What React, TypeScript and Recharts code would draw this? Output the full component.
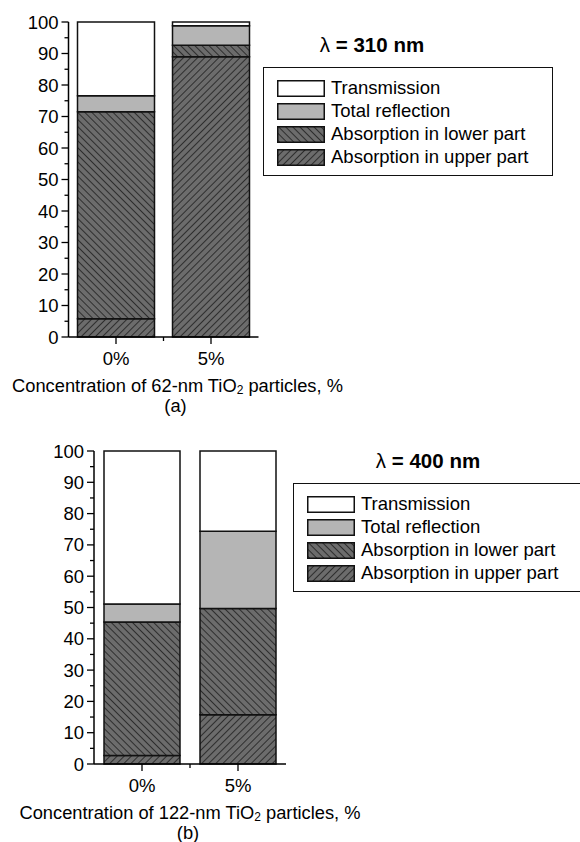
import React from 'react';
import { BarChart, Bar, XAxis, YAxis, Legend } from 'recharts';

const FONT = '"Liberation Sans", Arial, Helvetica, sans-serif';

// Categories: TiO2 particle concentration
const categories = ['0%', '5%'];

// Panel (a): 62-nm particles, λ = 310 nm (segment heights, %)
const upperA = [5.8, 89.0];
const lowerA = [65.7, 3.6];
const reflA = [5.1, 6.2];
const transA = [23.4, 1.2];

// Panel (b): 122-nm particles, λ = 400 nm (segment heights, %)
const upperB = [2.7, 15.7];
const lowerB = [42.7, 34.0];
const reflB = [5.7, 24.7];
const transB = [48.9, 25.6];

const yTicks = [0, 5, 10, 15, 20, 25, 30, 35, 40, 45, 50, 55, 60, 65, 70, 75, 80, 85, 90, 95, 100];

const seriesNames = {
  upper: 'Absorption in upper part',
  lower: 'Absorption in lower part',
  refl: 'Total reflection',
  trans: 'Transmission',
};
const legendOrder = ['trans', 'refl', 'lower', 'upper'];

const DARK = '#6c6c6c';
const HATCH = '#2e2e2e';
const LIGHT = '#b5b5b5';

function buildRows(upper: number[], lower: number[], refl: number[], trans: number[]) {
  return categories.map((cat, i) => ({
    cat,
    upper: upper[i],
    lower: lower[i],
    refl: refl[i],
    trans: trans[i],
  }));
}

function YTick(props: any) {
  const { x, y, payload } = props;
  const major = payload.value % 10 === 0;
  return (
    <g>
      <line x1={x - (major ? 7 : 4)} x2={x} y1={y} y2={y} stroke="#000" strokeWidth={1.3} />
      {major && (
        <text
          x={x - 10}
          y={y}
          textAnchor="end"
          dominantBaseline="central"
          fontSize={18.5}
          fontFamily={FONT}
          fill="#000"
        >
          {payload.value}
        </text>
      )}
    </g>
  );
}

function XTick(props: any) {
  const { x, y, payload, index } = props;
  const half = payload && typeof payload.offset === 'number' ? payload.offset : null;
  return (
    <g>
      <line x1={x} x2={x} y1={y} y2={y + 7} stroke="#000" strokeWidth={1.3} />
      {index === 0 && half !== null && (
        <line x1={x + half} x2={x + half} y1={y} y2={y + 4} stroke="#000" strokeWidth={1.3} />
      )}
      <text
        x={x}
        y={y + 21}
        textAnchor="middle"
        dominantBaseline="central"
        fontSize={18.5}
        fontFamily={FONT}
        fill="#000"
      >
        {payload.value}
      </text>
    </g>
  );
}

function makeTitle(size: string, tag: string, shift: number) {
  return (props: any) => {
    const vb = props.viewBox || {};
    const cx = vb.x + vb.width / 2 + shift;
    const top = vb.y;
    return (
      <g fontFamily={FONT} fill="#000">
        <text x={cx} y={top + 48} textAnchor="middle" dominantBaseline="central" fontSize={18.3}>
          {`Concentration of ${size}-nm TiO`}
          <tspan dy={5} fontSize={12}>2</tspan>
          <tspan dy={-5}> particles, %</tspan>
        </text>
        <text x={cx - 2} y={top + 68} textAnchor="middle" dominantBaseline="central" fontSize={18.3}>
          {tag}
        </text>
      </g>
    );
  };
}

function makeLegend(lambda: string, boxTop: number, lambdaX: number) {
  return (props: any) => {
    const items = [...(props.payload || [])].sort(
      (a: any, b: any) => legendOrder.indexOf(a.dataKey) - legendOrder.indexOf(b.dataKey)
    );
    return (
      <div style={{ position: 'relative', width: 300, height: boxTop + 112, fontFamily: FONT }}>
        <div
          style={{
            position: 'absolute',
            left: lambdaX - 90,
            width: 180,
            top: boxTop - 33,
            textAlign: 'center',
            fontSize: 20.5,
            fontWeight: 'bold',
            lineHeight: '22px',
            color: '#000',
          }}
        >
          <span style={{ fontWeight: 'normal' }}>λ</span> = {lambda} nm
        </div>
        <div
          style={{
            position: 'absolute',
            left: 0,
            top: boxTop,
            width: 290,
            height: 109,
            boxSizing: 'border-box',
            border: '1.5px solid #111',
            background: '#fff',
          }}
        >
          {items.map((it: any, i: number) => (
            <div
              key={it.dataKey}
              style={{ position: 'absolute', left: 13, top: 11 + 23 * i, height: 18, display: 'flex', alignItems: 'center' }}
            >
              <svg width={48} height={17} style={{ display: 'block' }}>
                <rect x={0.75} y={0.75} width={46.5} height={15.5} fill={it.color} stroke="#111" strokeWidth={1.5} />
              </svg>
              <span style={{ marginLeft: 6, fontSize: 18.5, color: '#000', whiteSpace: 'nowrap', lineHeight: '18px' }}>
                {it.value}
              </span>
            </div>
          ))}
        </div>
      </div>
    );
  };
}

type PanelProps = {
  prefix: string;
  rows: any[];
  top: number;
  height: number;
  margin: { top: number; right: number; bottom: number; left: number };
  barSize: number;
  lambda: string;
  size: string;
  tag: string;
  titleShift: number;
  legendLeft: number;
  legendTop: number;
  lambdaX: number;
};

function Panel(p: PanelProps) {
  const up = `${p.prefix}-up`;
  const low = `${p.prefix}-low`;
  return (
    <div style={{ position: 'absolute', left: 0, top: p.top }}>
      <BarChart width={580} height={p.height} data={p.rows} margin={p.margin}>
        <defs>
          <pattern id={up} width={5} height={5} patternUnits="userSpaceOnUse" patternTransform="rotate(45)">
            <rect width={5} height={5} fill={DARK} />
            <line x1={0.5} y1={0} x2={0.5} y2={5} stroke={HATCH} strokeWidth={1} />
          </pattern>
          <pattern id={low} width={5} height={5} patternUnits="userSpaceOnUse" patternTransform="rotate(-45)">
            <rect width={5} height={5} fill={DARK} />
            <line x1={0.5} y1={0} x2={0.5} y2={5} stroke={HATCH} strokeWidth={1} />
          </pattern>
        </defs>
        <XAxis
          dataKey="cat"
          type="category"
          height={30}
          tickLine={false}
          tickSize={0}
          tickMargin={0}
          interval={0}
          axisLine={{ stroke: '#000', strokeWidth: 1.5 }}
          tick={<XTick />}
          label={{ content: makeTitle(p.size, p.tag, p.titleShift) } as any}
        />
        <YAxis
          type="number"
          domain={[0, 100]}
          ticks={yTicks}
          interval={0}
          width={60}
          tickLine={false}
          tickSize={0}
          tickMargin={0}
          axisLine={{ stroke: '#000', strokeWidth: 1.5 }}
          tick={<YTick />}
        />
        <Legend
          layout="vertical"
          align="center"
          verticalAlign="middle"
          content={makeLegend(p.lambda, 40, p.lambdaX)}
          wrapperStyle={{ position: 'absolute', left: p.legendLeft, top: p.legendTop, width: 320 }}
        />
        <Bar dataKey="upper" name={seriesNames.upper} stackId="s" fill={`url(#${up})`} stroke="#111" strokeWidth={1.5} barSize={p.barSize} isAnimationActive={false} />
        <Bar dataKey="lower" name={seriesNames.lower} stackId="s" fill={`url(#${low})`} stroke="#111" strokeWidth={1.5} barSize={p.barSize} isAnimationActive={false} />
        <Bar dataKey="refl" name={seriesNames.refl} stackId="s" fill={LIGHT} stroke="#111" strokeWidth={1.5} barSize={p.barSize} isAnimationActive={false} />
        <Bar dataKey="trans" name={seriesNames.trans} stackId="s" fill="#ffffff" stroke="#111" strokeWidth={1.5} barSize={p.barSize} isAnimationActive={false} />
      </BarChart>
    </div>
  );
}

export default function App() {
  const rowsA = buildRows(upperA, lowerA, reflA, transA);
  const rowsB = buildRows(upperB, lowerB, reflB, transB);
  return (
    <div
      style={{
        position: 'absolute',
        left: 0,
        top: 0,
        width: 580,
        height: 842,
        overflow: 'hidden',
        background: '#fff',
        fontFamily: FONT,
      }}
    >
      <Panel
        prefix="pa"
        rows={rowsA}
        top={0}
        height={420}
        margin={{ top: 22, right: 321.5, bottom: 53, left: 8.5 }}
        barSize={77}
        lambda="310"
        size="62"
        tag="(a)"
        titleShift={14}
        legendLeft={263}
        legendTop={27}
        lambdaX={109}
      />
      <Panel
        prefix="pb"
        rows={rowsB}
        top={420}
        height={422}
        margin={{ top: 31, right: 294, bottom: 48, left: 34 }}
        barSize={76}
        lambda="400"
        size="122"
        tag="(b)"
        titleShift={0}
        legendLeft={293}
        legendTop={23}
        lambdaX={135}
      />
    </div>
  );
}
